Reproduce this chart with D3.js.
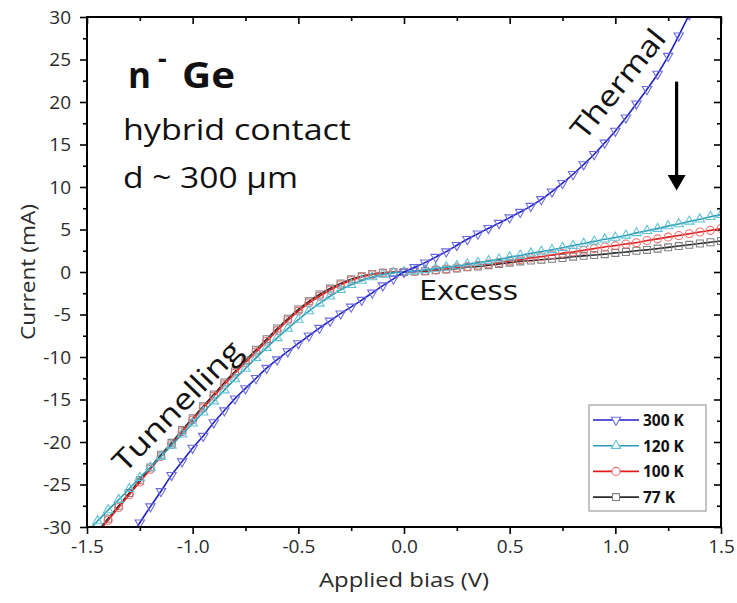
<!DOCTYPE html>
<html>
<head>
<meta charset="utf-8">
<script src="https://cdn.jsdelivr.net/npm/d3@7"></script>
<style>
  body { margin: 0; background: #fff; }
  svg { display: block; }
  text { font-family: "Open Sans", Lato, sans-serif; }
</style>
</head>
<body>
<svg id="chart" width="737" height="603"></svg>
<script>
// Bias sweep (V)
const bias = [-1.50, -1.45, -1.40, -1.35, -1.30, -1.25, -1.20, -1.15, -1.10, -1.05,
              -1.00, -0.95, -0.90, -0.85, -0.80, -0.75, -0.70, -0.65, -0.60, -0.55,
              -0.50, -0.45, -0.40, -0.35, -0.30, -0.25, -0.20, -0.15, -0.10, -0.05,
               0.00,  0.05,  0.10,  0.15,  0.20,  0.25,  0.30,  0.35,  0.40,  0.45,
               0.50,  0.55,  0.60,  0.65,  0.70,  0.75,  0.80,  0.85,  0.90,  0.95,
               1.00,  1.05,  1.10,  1.15,  1.20,  1.25,  1.30,  1.35,  1.40,  1.45, 1.50];

// Current (mA) at each bias point; null where the curve is outside the measured window
const current300K = [null, null, null, null, -31.4, -29.5, -27.6, -25.8, -23.9, -22.3,
                     -20.7, -19.3, -17.7, -16.3, -14.9, -13.7, -12.5, -11.3, -10.3, -9.35,
                     -8.4, -7.5, -6.6, -5.75, -4.9, -4.1, -3.3, -2.45, -1.6, -0.8,
                      0.0, 0.55, 1.1, 1.75, 2.4, 3.15, 3.85, 4.5, 5.15, 5.75,
                      6.4, 7.05, 7.75, 8.55, 9.45, 10.45, 11.5, 12.65, 13.85, 15.2,
                      16.6, 18.15, 19.8, 21.5, 23.3, 25.4, 27.8, 30.3, 32.9, null, null];

const current120K = [-30.6, -29.3, -28.0, -26.8, -25.5, -24.2, -23.0, -21.7, -20.4, -19.1,
                     -17.8, -16.5, -15.2, -13.9, -12.6, -11.35, -10.1, -8.9, -7.75, -6.65,
                     -5.6, -4.6, -3.7, -2.85, -2.1, -1.5, -1.0, -0.6, -0.3, -0.1,
                      0.0, 0.1, 0.25, 0.4, 0.55, 0.7, 0.9, 1.1, 1.3, 1.5,
                      1.75, 1.95, 2.2, 2.4, 2.6, 2.85, 3.1, 3.35, 3.6, 3.85,
                      4.05, 4.3, 4.6, 4.85, 5.1, 5.4, 5.65, 5.95, 6.2, 6.5, 6.75];

const current100K = [-32.2, -30.7, -29.2, -27.7, -26.2, -24.7, -23.2, -21.7, -20.3, -18.8,
                     -17.4, -16.0, -14.6, -13.25, -11.9, -10.65, -9.4, -8.15, -6.9, -5.7,
                     -4.6, -3.65, -2.85, -2.15, -1.5, -1.0, -0.6, -0.3, -0.12, -0.03,
                      0.0, 0.05, 0.15, 0.25, 0.35, 0.5, 0.65, 0.8, 0.95, 1.1,
                      1.3, 1.45, 1.65, 1.8, 2.0, 2.2, 2.35, 2.55, 2.75, 2.95,
                      3.1, 3.3, 3.45, 3.7, 3.9, 4.1, 4.3, 4.5, 4.7, 4.9, 5.1];

const current77K = [-32.0, -30.5, -29.0, -27.5, -26.0, -24.5, -23.0, -21.5, -20.1, -18.6,
                    -17.2, -15.8, -14.4, -13.0, -11.7, -10.4, -9.15, -7.9, -6.65, -5.5,
                    -4.4, -3.45, -2.65, -1.95, -1.35, -0.85, -0.5, -0.25, -0.1, -0.03,
                     0.0, 0.05, 0.1, 0.2, 0.3, 0.4, 0.55, 0.65, 0.8, 0.95,
                     1.1, 1.25, 1.35, 1.45, 1.55, 1.65, 1.8, 1.9, 2.0, 2.1,
                     2.25, 2.35, 2.5, 2.6, 2.75, 2.9, 3.05, 3.2, 3.35, 3.5, 3.65];

const seriesNames = ["300 K", "120 K", "100 K", "77 K"];

const xMajorTicks = [-1.5, -1.0, -0.5, 0.0, 0.5, 1.0, 1.5];
const xMinorTicks = [-1.25, -0.75, -0.25, 0.25, 0.75, 1.25];
const yMajorTicks = [-30, -25, -20, -15, -10, -5, 0, 5, 10, 15, 20, 25, 30];
const yMinorTicks = [-27.5, -22.5, -17.5, -12.5, -7.5, -2.5, 2.5, 7.5, 12.5, 17.5, 22.5, 27.5];

// ---------------------------------------------------------------------------
const svg = d3.select("#chart");
const plot = { left: 87, right: 721, top: 17, bottom: 527 };

const x = d3.scaleLinear().domain([-1.5, 1.5]).range([plot.left, plot.right]);
const y = d3.scaleLinear().domain([-30, 30]).range([plot.bottom, plot.top]);

const styles = {
  "300 K": { line: "#2020c8", marker: "#6c6ce0", symbol: "triDown" },
  "120 K": { line: "#2a9cb8", marker: "#62c3d6", symbol: "triUp" },
  "100 K": { line: "#dd1f1f", marker: "#ee7070", symbol: "circle" },
  "77 K":  { line: "#2a2a2a", marker: "#808080", symbol: "square" }
};
const seriesValues = {
  "300 K": current300K, "120 K": current120K, "100 K": current100K, "77 K": current77K
};

function symbolPath(kind) {
  if (kind === "circle") return d3.symbol(d3.symbolCircle, 50)();
  if (kind === "square") return d3.symbol(d3.symbolSquare, 48)();
  return d3.symbol(d3.symbolTriangle, 38)();
}
function symbolRotate(kind) { return kind === "triDown" ? " rotate(180)" : ""; }

svg.append("defs").append("clipPath").attr("id", "plot-clip")
  .append("rect")
  .attr("x", plot.left).attr("y", plot.top)
  .attr("width", plot.right - plot.left).attr("height", plot.bottom - plot.top);

// Axes ---------------------------------------------------------------------
function styleAxis(g) {
  g.select(".domain").remove();
  g.selectAll(".tick line").attr("stroke", "#000").attr("stroke-width", 1.6);
  g.selectAll(".tick text").attr("fill", "#2a2a2a").style("font-size", "19px");
}

// bottom (outer ticks, labelled)
svg.append("g").attr("transform", `translate(0,${plot.bottom})`)
  .call(d3.axisBottom(x).tickValues(xMajorTicks).tickSize(7).tickPadding(6)
    .tickFormat(d => d.toFixed(1)))
  .call(styleAxis);
svg.append("g").attr("transform", `translate(0,${plot.bottom})`)
  .call(d3.axisBottom(x).tickValues(xMinorTicks).tickSize(4).tickFormat(""))
  .call(styleAxis);

// left (outer ticks, labelled)
svg.append("g").attr("transform", `translate(${plot.left},0)`)
  .call(d3.axisLeft(y).tickValues(yMajorTicks).tickSize(7).tickPadding(9)
    .tickFormat(d => String(d)))
  .call(styleAxis);
svg.append("g").attr("transform", `translate(${plot.left},0)`)
  .call(d3.axisLeft(y).tickValues(yMinorTicks).tickSize(4).tickFormat(""))
  .call(styleAxis);

// top (inner ticks)
svg.append("g").attr("transform", `translate(0,${plot.top})`)
  .call(d3.axisBottom(x).tickValues(xMajorTicks).tickSize(7).tickFormat(""))
  .call(styleAxis);
svg.append("g").attr("transform", `translate(0,${plot.top})`)
  .call(d3.axisBottom(x).tickValues(xMinorTicks).tickSize(4).tickFormat(""))
  .call(styleAxis);

// right (inner ticks)
svg.append("g").attr("transform", `translate(${plot.right},0)`)
  .call(d3.axisLeft(y).tickValues(yMajorTicks).tickSize(7).tickFormat(""))
  .call(styleAxis);
svg.append("g").attr("transform", `translate(${plot.right},0)`)
  .call(d3.axisLeft(y).tickValues(yMinorTicks).tickSize(4).tickFormat(""))
  .call(styleAxis);

// axis titles
svg.append("text")
  .attr("x", (plot.left + plot.right) / 2).attr("y", 587)
  .attr("text-anchor", "middle").attr("fill", "#2a2a2a")
  .attr("textLength", 170).attr("lengthAdjust", "spacingAndGlyphs")
  .style("font-size", "20px").text("Applied bias (V)");
svg.append("text")
  .attr("transform", `translate(27,${(plot.top + plot.bottom) / 2}) rotate(-90)`)
  .attr("text-anchor", "middle").attr("dominant-baseline", "central").attr("fill", "#2a2a2a")
  .attr("textLength", 136).attr("lengthAdjust", "spacingAndGlyphs")
  .style("font-size", "20px").text("Current (mA)");

// Curves -------------------------------------------------------------------
const drawOrder = ["77 K", "100 K", "120 K", "300 K"];
const curves = svg.append("g").attr("clip-path", "url(#plot-clip)");

drawOrder.forEach(name => {
  const st = styles[name];
  const pts = bias.map((v, i) => ({ v, c: seriesValues[name][i] })).filter(p => p.c !== null);

  curves.append("path")
    .datum(pts)
    .attr("fill", "none")
    .attr("stroke", st.line)
    .attr("stroke-width", 1.6)
    .attr("d", d3.line().x(p => x(p.v)).y(p => y(p.c)).curve(d3.curveMonotoneX));

  curves.append("g").selectAll("path")
    .data(pts)
    .join("path")
    .attr("d", symbolPath(st.symbol))
    .attr("transform", p => `translate(${x(p.v)},${y(p.c)})${symbolRotate(st.symbol)}`)
    .attr("fill", "none")
    .attr("stroke", st.marker)
    .attr("stroke-width", 1.1);
});

// frame
svg.append("rect")
  .attr("x", plot.left).attr("y", plot.top)
  .attr("width", plot.right - plot.left).attr("height", plot.bottom - plot.top)
  .attr("fill", "none").attr("stroke", "#000").attr("stroke-width", 2);

// Annotations --------------------------------------------------------------
svg.append("text").attr("x", 128).attr("y", 88).attr("fill", "#111")
  .style("font-size", "35px").style("font-weight", "bold").text("n");
svg.append("text").attr("x", 158).attr("y", 68).attr("fill", "#111")
  .style("font-size", "27px").style("font-weight", "bold").text("-");
svg.append("text").attr("x", 182).attr("y", 88).attr("fill", "#111")
  .attr("textLength", 53).attr("lengthAdjust", "spacingAndGlyphs")
  .style("font-size", "35px").style("font-weight", "bold").text("Ge");

svg.append("text").attr("x", 123).attr("y", 140).attr("fill", "#111")
  .attr("textLength", 228).attr("lengthAdjust", "spacingAndGlyphs")
  .style("font-size", "29px").text("hybrid contact");
svg.append("text").attr("x", 123).attr("y", 188).attr("fill", "#111")
  .attr("textLength", 175).attr("lengthAdjust", "spacingAndGlyphs")
  .style("font-size", "29px").text("d ~ 300 µm");

svg.append("text")
  .attr("transform", "translate(617,83) rotate(-51)")
  .attr("text-anchor", "middle").attr("dominant-baseline", "central").attr("fill", "#111")
  .attr("textLength", 132).attr("lengthAdjust", "spacingAndGlyphs")
  .style("font-size", "29px").text("Thermal");

svg.append("text")
  .attr("transform", "translate(176,405) rotate(-45.5)")
  .attr("text-anchor", "middle").attr("dominant-baseline", "central").attr("fill", "#111")
  .attr("textLength", 170).attr("lengthAdjust", "spacingAndGlyphs")
  .style("font-size", "29px").text("Tunnelling");

svg.append("text").attr("x", 419).attr("y", 300).attr("fill", "#111")
  .attr("textLength", 99).attr("lengthAdjust", "spacingAndGlyphs")
  .style("font-size", "28px").text("Excess");

// arrow: current decreases with cooling
const arrowX = x(1.29);
svg.append("line")
  .attr("x1", arrowX).attr("x2", arrowX)
  .attr("y1", y(22.4)).attr("y2", y(11.2))
  .attr("stroke", "#000").attr("stroke-width", 3.2);
svg.append("path")
  .attr("d", `M${arrowX - 9},${y(11.4)} L${arrowX + 9},${y(11.4)} L${arrowX},${y(9.6)} Z`)
  .attr("fill", "#000");

// Legend -------------------------------------------------------------------
const legend = svg.append("g").attr("transform", "translate(589,405)");
legend.append("rect").attr("width", 117).attr("height", 106)
  .attr("fill", "#fff").attr("stroke", "#8a8a8a").attr("stroke-width", 1);

seriesNames.forEach((name, i) => {
  const st = styles[name];
  const row = legend.append("g").attr("transform", `translate(0,${15 + i * 25.7})`);
  row.append("line").attr("x1", 4).attr("x2", 50).attr("y1", 0).attr("y2", 0)
    .attr("stroke", st.line).attr("stroke-width", 1.6);
  row.append("path").attr("d", symbolPath(st.symbol))
    .attr("transform", `translate(27,0)${symbolRotate(st.symbol)}`)
    .attr("fill", "#fff").attr("stroke", st.marker).attr("stroke-width", 1.1);
  row.append("text").attr("x", 54).attr("y", 0).attr("dominant-baseline", "central")
    .attr("fill", "#111").style("font-size", "15.5px").style("font-weight", "bold").text(name);
});
</script>
</body>
</html>
